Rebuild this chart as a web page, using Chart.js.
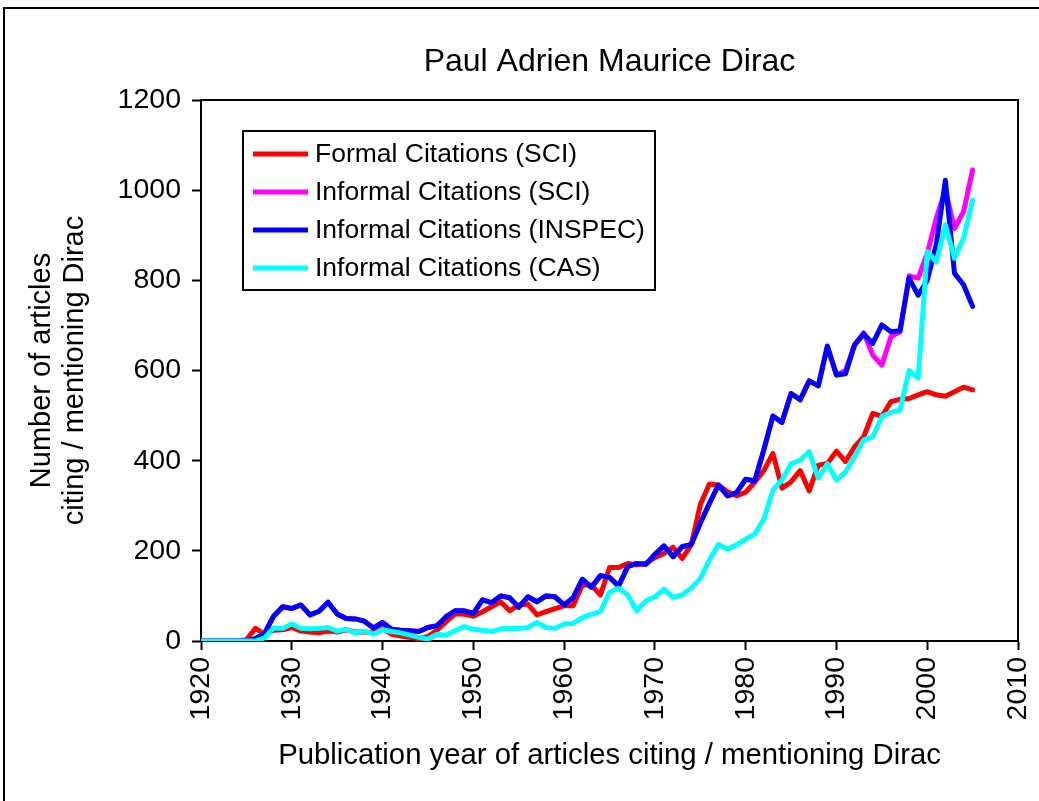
<!DOCTYPE html>
<html><head><meta charset="utf-8">
<script src="https://cdn.jsdelivr.net/npm/chart.js@4.4.1/dist/chart.umd.min.js"></script>
<style>
html,body{margin:0;padding:0;background:#fff;overflow:hidden;}
#wrap{position:relative;width:1039px;height:801px;}
#frame{position:absolute;left:3px;top:7px;width:1100px;height:900px;border-left:2px solid #000;border-top:2px solid #000;}
canvas{position:absolute;left:0;top:0;}
</style></head>
<body><div id="wrap"><div id="frame"></div><canvas id="c" width="1039" height="801"></canvas></div>
<script>
const years = [1920,1921,1922,1923,1924,1925,1926,1927,1928,1929,
  1930,1931,1932,1933,1934,1935,1936,1937,1938,1939,
  1940,1941,1942,1943,1944,1945,1946,1947,1948,1949,
  1950,1951,1952,1953,1954,1955,1956,1957,1958,1959,
  1960,1961,1962,1963,1964,1965,1966,1967,1968,1969,
  1970,1971,1972,1973,1974,1975,1976,1977,1978,1979,
  1980,1981,1982,1983,1984,1985,1986,1987,1988,1989,
  1990,1991,1992,1993,1994,1995,1996,1997,1998,1999,
  2000,2001,2002,2003,2004,2005];

const formalSCI = [0,0,0,0,0,3,28,15,24,25,
  30,22,20,18,22,20,25,20,20,18,
  28,15,11,8,5,10,24,43,60,60,
  55,65,76,87,67,80,82,58,65,72,
  78,78,124,124,102,163,163,172,169,172,
  185,194,208,183,213,302,348,346,331,322,
  330,352,378,416,339,353,378,333,390,394,
  421,398,431,453,505,498,531,536,538,546,
  553,546,543,553,563,557];

const informalSCI = [0,0,0,0,0,0,5,17,55,76,
  72,80,58,66,86,60,50,49,44,29,
  41,26,24,23,21,30,34,54,67,67,
  61,91,85,100,96,75,98,87,100,98,
  80,96,137,119,145,141,122,165,172,170,
  192,211,187,209,214,261,305,346,322,329,
  359,355,424,499,485,549,535,577,566,654,
  590,600,657,684,634,612,675,686,810,805,
  860,938,1000,915,952,1045];

const informalINSPEC = [0,0,0,0,0,0,5,17,55,76,
  72,80,58,66,86,60,50,49,44,29,
  41,26,24,23,21,30,34,54,67,67,
  61,91,85,100,96,75,98,87,100,98,
  80,96,137,119,145,141,122,165,172,170,
  192,211,187,209,214,261,305,346,322,329,
  359,355,424,499,485,549,535,577,566,654,
  590,593,657,681,660,701,686,688,805,767,
  800,880,1022,816,790,742];

const informalCAS = [0,0,0,0,0,0,0,7,29,28,
  38,28,27,28,30,22,26,18,22,15,
  25,21,18,13,8,4,15,13,23,32,
  26,24,21,27,28,28,30,41,30,28,
  38,39,52,59,65,108,117,102,67,89,
  98,115,97,102,117,139,180,214,204,213,
  226,237,270,335,357,393,401,420,361,393,
  357,375,409,446,453,498,507,512,600,583,
  864,841,923,849,893,978];

const yTicks = [0,200,400,600,800,1000,1200];
const xTicks = [1920,1930,1940,1950,1960,1970,1980,1990,2000,2010];

const seriesNames = ['Formal Citations (SCI)','Informal Citations (SCI)','Informal Citations (INSPEC)','Informal Citations (CAS)'];
const seriesColors = ['#FF0000','#FF00FF','#0000FF','#00FFFF'];
const seriesValues = [formalSCI, informalSCI, informalINSPEC, informalCAS];

const FONT = "'Liberation Sans', Arial, Helvetica, sans-serif";
const toPoints = vals => years.map((yr, i) => ({x: yr, y: vals[i]}));

// draw order: later series on top (cyan, blue, magenta, red from top to bottom)
const drawOrder = [3, 2, 1, 0];
const datasets = drawOrder.map(i => ({
  label: seriesNames[i],
  data: toPoints(seriesValues[i]),
  borderColor: seriesColors[i],
  backgroundColor: seriesColors[i],
  borderWidth: 5,
  pointRadius: 0,
  tension: 0,
  fill: false,
  borderCapStyle: 'round',
  borderJoinStyle: 'round'
}));

const framePlugin = {
  id: 'frame',
  afterDraw(chart) {
    const {ctx, chartArea: a} = chart;
    ctx.save();
    ctx.strokeStyle = '#000';
    ctx.lineWidth = 2;
    ctx.beginPath();
    ctx.moveTo(a.left, a.top);
    ctx.lineTo(a.right, a.top);
    ctx.lineTo(a.right, a.bottom);
    ctx.stroke();
    // legend box
    const bx = a.left + 42, by = a.top + 31, bw = 412, bh = 159;
    ctx.fillStyle = '#fff';
    ctx.fillRect(bx, by, bw, bh);
    ctx.strokeRect(bx, by, bw, bh);
    ctx.font = '26.5px ' + FONT;
    ctx.textBaseline = 'middle';
    ctx.textAlign = 'left';
    seriesNames.forEach((name, i) => {
      const y = by + 23 + i * 38;
      ctx.strokeStyle = seriesColors[i];
      ctx.lineWidth = 5;
      ctx.beginPath();
      ctx.moveTo(bx + 10, y);
      ctx.lineTo(bx + 65, y);
      ctx.stroke();
      ctx.fillStyle = '#000';
      ctx.fillText(name, bx + 72, y + 1);
    });
    ctx.restore();
  }
};

new Chart(document.getElementById('c'), {
  type: 'line',
  data: {datasets},
  options: {
    responsive: false,
    animation: false,
    layout: {padding: {left: 25.5, right: 21, top: 0, bottom: 28.5}},
    plugins: {
      legend: {display: false},
      tooltip: {enabled: false},
      title: {
        display: true,
        text: 'Paul Adrien Maurice Dirac',
        color: '#000',
        fullSize: false,
        font: {family: FONT, size: 32, weight: 'normal', lineHeight: 1.2},
        padding: {top: 42.8, bottom: 18.8}
      }
    },
    scales: {
      x: {
        type: 'linear',
        min: 1920, max: 2010,
        afterBuildTicks: s => { s.ticks = xTicks.map(v => ({value: v})); },
        ticks: {
          autoSkip: false, minRotation: 90, maxRotation: 90,
          color: '#000', padding: 7,
          font: {family: FONT, size: 28.5},
          callback: v => String(v)
        },
        grid: {drawOnChartArea: false, drawTicks: true, tickLength: 9, tickWidth: 2, tickColor: '#000'},
        border: {display: true, color: '#000', width: 2},
        title: {
          display: true,
          text: 'Publication year of articles citing / mentioning Dirac',
          color: '#000',
          font: {family: FONT, size: 29.3, lineHeight: 1.14},
          padding: {top: 0, bottom: 0}
        },
        afterFit: s => { s.height = 131.5; s.paddingLeft = 0; s.paddingRight = 0; }
      },
      y: {
        type: 'linear',
        min: 0, max: 1200,
        afterBuildTicks: s => { s.ticks = yTicks.map(v => ({value: v})); },
        ticks: {
          color: '#000', padding: 11,
          font: {family: FONT, size: 28.5},
          callback: v => String(v)
        },
        grid: {drawOnChartArea: false, drawTicks: true, tickLength: 9, tickWidth: 2, tickColor: '#000'},
        border: {display: true, color: '#000', width: 2},
        title: {
          display: true,
          text: ['Number of articles', 'citing / mentioning Dirac'],
          color: '#000',
          font: {family: FONT, size: 29, lineHeight: 1.14},
          padding: {top: 0, bottom: 0}
        },
        afterFit: s => { s.width = 175.5; s.paddingTop = 0; s.paddingBottom = 0; }
      }
    }
  },
  plugins: [framePlugin]
});
</script>
</body></html>
